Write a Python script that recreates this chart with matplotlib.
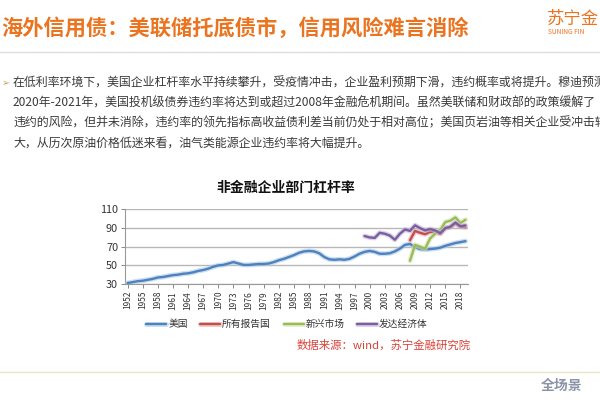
import matplotlib
matplotlib.use("Agg")
import matplotlib.pyplot as plt
import matplotlib.patheffects as pe
import numpy as np

plt.rcParams['font.family'] = ['Noto Sans CJK SC', 'DejaVu Sans']

# ---------------- data ----------------
us_years = list(range(1952, 2020))
us_values = [31, 32, 33, 33.5, 34.5, 35.5, 37, 37.5, 38.5, 39.5,
             40, 41, 41.5, 42.5, 44, 45, 46.5, 48.5, 50, 50.5,
             52, 53.5, 52, 50.5, 50.5, 51, 51.5, 51.5, 52, 53.5,
             55.5, 57, 59, 61, 63.5, 65, 65.5, 65, 63, 59,
             56.5, 56, 56.5, 56, 57, 59.5, 62.5, 64.5, 65.5, 64.5,
             62.5, 62.5, 63, 65, 68, 72, 73, 69.5, 67.5, 67,
             67.5, 68, 69, 71, 72.5, 74, 75, 76]

dev_years = list(range(1999, 2020))
dev_values = [81.5, 80, 79.5, 85, 84, 82, 77.5, 84, 88.5, 87,
              93, 90, 87.5, 89, 87.5, 84.5, 90, 91.5, 96, 92, 93]

all_years = list(range(2008, 2020))
all_values = [77, 87, 85, 83.5, 86, 85.5, 84, 90, 91, 95, 91.5, 91]

em_years = list(range(2008, 2020))
em_values = [55, 72, 70, 68, 79, 84, 88, 96.5, 98, 101.5, 95.5, 99]

series_names = ['美国', '所有报告国', '新兴市场', '发达经济体']
tick_years = list(range(1952, 2019, 3))
y_ticks = [30, 50, 70, 90, 110]

header_title = '海外信用债：美联储托底债市，信用风险难言消除'
body_lines = [
    '在低利率环境下，美国企业杠杆率水平持续攀升，受疫情冲击，企业盈利预期下滑，违约概率或将提升。穆迪预测',
    '2020年-2021年，美国投机级债券违约率将达到或超过2008年金融危机期间。虽然美联储和财政部的政策缓解了',
    '违约的风险，但并未消除，违约率的领先指标高收益债利差当前仍处于相对高位；美国页岩油等相关企业受冲击较',
    '大，从历次原油价格低迷来看，油气类能源企业违约率将大幅提升。',
]
chart_title = '非金融企业部门杠杆率'
source_text = '数据来源：wind，苏宁金融研究院'

# ---------------- figure ----------------
fig = plt.figure(figsize=(6, 4), dpi=100)
W, H = 600, 400

def fx(px):
    return px / W

def fy(py):
    return 1 - py / H

orange = '#EA7420'

# header
fig.text(fx(1), fy(28), header_title, fontsize=15.3, fontweight='bold',
         color=orange, va='center', ha='left')
fig.text(fx(547), fy(19), '苏宁金', fontsize=12.5, color=orange,
         va='center', ha='left')
fig.text(fx(548), fy(32), 'SUNING FIN', fontsize=4.8, color=orange,
         va='center', ha='left')
fig.add_artist(plt.Line2D([0, 1], [fy(52), fy(52)], color='#DDDDDD', lw=1.0))

# bullet + body text
fig.text(fx(2), fy(83), '➢', fontsize=7, color='#C9A45A', va='center',
         ha='left', family='DejaVu Sans')
for i, line in enumerate(body_lines):
    fig.text(fx(13), fy(83 + i * 20), line, fontsize=8.6, color='#3A3A3A',
             va='center', ha='left')

# chart title
fig.text(fx(286), fy(188), chart_title, fontsize=10, fontweight='bold',
         color='#111111', va='center', ha='center')

# axes
ax = fig.add_axes([fx(125), fy(284), (468 - 125) / W, (284 - 209.5) / H])
colors = ['#4F81BD', '#C0504D', '#9BBB59', '#7A5FA0']
glows = ['#A9CBEA', '#E6A9A7', '#D3E3B2', '#C3B5D8']
data = [(us_years, us_values), (all_years, all_values),
        (em_years, em_values), (dev_years, dev_values)]
lines = []
for (xs, ys), c, g, name in zip(data, colors, glows, series_names):
    ln, = ax.plot(xs, ys, color=c, lw=1.7, label=name, solid_capstyle='round',
                  path_effects=[pe.Stroke(linewidth=3.6, foreground=g, alpha=0.6),
                                pe.Normal()], zorder=3)
    lines.append(ln)

ax.set_xlim(1951.5, 2019.5)
ax.set_ylim(30, 110)
ax.set_yticks(y_ticks)
ax.set_yticklabels([str(v) for v in y_ticks], fontsize=7.8, color='#333333')
ax.set_xticks(tick_years)
ax.set_xticklabels([str(y) for y in tick_years], rotation=90, fontsize=6,
                   color='#333333')
ax.grid(axis='y', color='#B8B8B8', lw=1.0)
ax.set_axisbelow(True)
for s in ['top', 'right']:
    ax.spines[s].set_visible(False)
ax.spines['left'].set_color('#999999')
ax.spines['bottom'].set_color('#999999')
ax.tick_params(axis='both', length=3, width=0.7, color='#888888', pad=2)

leg = fig.legend(handles=lines, labels=series_names, loc='center',
                 bbox_to_anchor=(fx(287), fy(324)), ncol=4, frameon=False,
                 fontsize=7, handlelength=2.05, handletextpad=0.2,
                 columnspacing=1.3, borderpad=0, borderaxespad=0)
for t in leg.get_texts():
    t.set_color('#333333')

fig.text(fx(297), fy(345), source_text, fontsize=8.2, color='#D9443A',
         va='center', ha='left')

# footer
fig.add_artist(plt.Line2D([0, 1], [fy(372), fy(372)], color='#EFE4C4', lw=1.0))
fig.text(fx(541), fy(386), '全场景', fontsize=10, fontweight='bold',
         color='#8A94A6', va='center', ha='left')

fig.savefig('out.png', dpi=100)
